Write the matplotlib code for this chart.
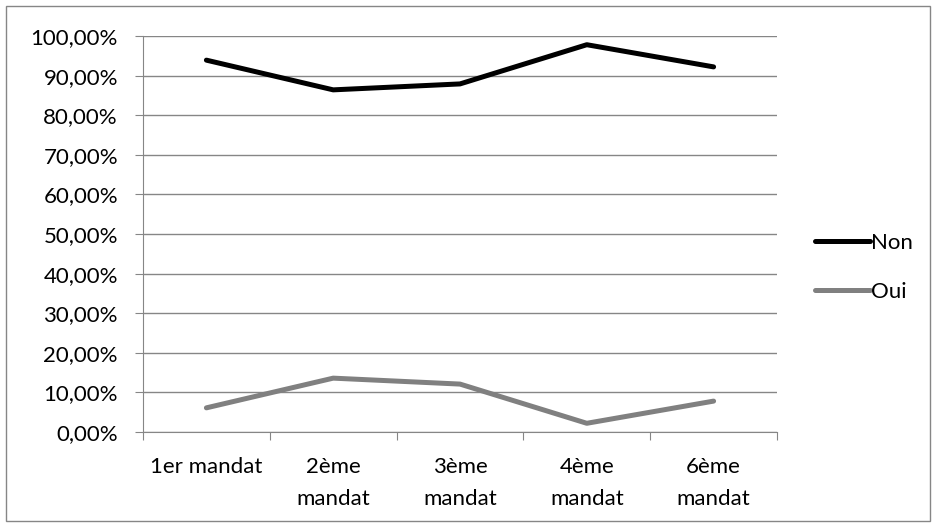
import matplotlib
matplotlib.use("Agg")
import matplotlib.pyplot as plt
from matplotlib.patches import Rectangle
from matplotlib.ticker import FuncFormatter, MultipleLocator

categories = ["1er mandat", "2ème\nmandat", "3ème\nmandat", "4ème\nmandat", "6ème\nmandat"]
non_values = [93.9, 86.4, 87.9, 97.8, 92.2]
oui_values = [6.1, 13.6, 12.1, 2.2, 7.8]

plt.rcParams['font.family'] = ['Lato', 'DejaVu Sans']
FS = 16
fig = plt.figure(figsize=(9.35, 5.27), dpi=100)
ax = fig.add_axes([143/935, 1-432/527, (777-143)/935, (432-36)/527])

x = [i + 0.5 for i in range(len(categories))]
ax.plot(x, non_values, color='black', lw=3.6, solid_capstyle='round', solid_joinstyle='round', label='Non')
ax.plot(x, oui_values, color='#808080', lw=3.6, solid_capstyle='round', solid_joinstyle='round', label='Oui')

ax.set_xlim(0, len(categories))
ax.set_ylim(0, 100)
ax.yaxis.set_major_locator(MultipleLocator(10))
ax.yaxis.set_major_formatter(FuncFormatter(lambda v, p: f"{v:.2f}%".replace('.', ',')))
ax.grid(axis='y', color='#868686', lw=1)
ax.set_axisbelow(True)
ax.set_xticks(range(len(categories) + 1))
ax.set_xticklabels([])
ax.set_xticks(x, minor=True)
ax.set_xticklabels(categories, minor=True, fontsize=FS, linespacing=1.75)
ax.tick_params(axis='x', which='minor', length=0, pad=18)
ax.tick_params(axis='x', which='major', length=6, color='#868686', direction='out')
ax.tick_params(axis='y', length=6, color='#868686', labelsize=FS, pad=12)
for s in ['top', 'right']:
    ax.spines[s].set_visible(False)
for s in ['left', 'bottom']:
    ax.spines[s].set_color('#868686')

leg = ax.legend(loc='center left', bbox_to_anchor=(1.028, 0.415), frameon=False, fontsize=FS,
                handlelength=2.5, handletextpad=0.05, labelspacing=1.3)

fig.patches.append(Rectangle((6/935, 6/527), 924/935, 515/527, transform=fig.transFigure,
                             fill=False, edgecolor='#868686', lw=1))
fig.savefig('out.png', dpi=100)
